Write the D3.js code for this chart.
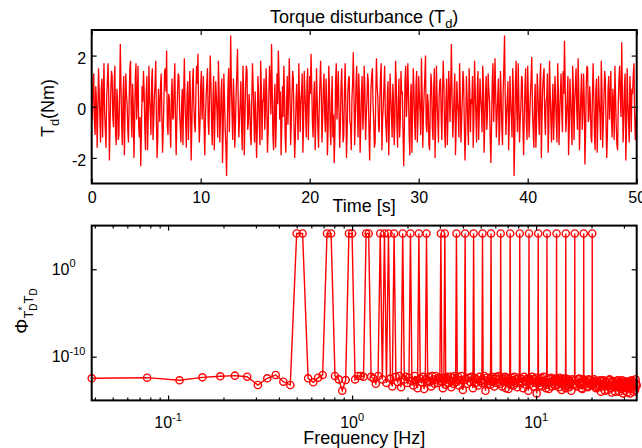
<!DOCTYPE html>
<html>
<head>
<meta charset="utf-8">
<script src="https://cdn.jsdelivr.net/npm/d3@7"></script>
<style>
body { margin: 0; background: #fff; }
text { font-family: "Liberation Sans", Arial, sans-serif; fill: #000; }
</style>
</head>
<body>
<div id="chart"></div>
<script>
// torque disturbance, one sample every sampleStep seconds
var sampleStep = 0.0625;
var torqueNm = [
 0.0, -0.5, 0.9, 1.3, -0.6, -1.1, 0.8, 0.2, -1.6, -0.3, 1.5, 0.6, -0.4, -1.4, 0.7, 1.1, -1.2, 0.4, 1.7, -0.2, -0.9, -1.6, 0.3, 1.0, 1.7, 0.5, -2.1, -0.7, 0.6, 1.4, 1.2, -0.4, -0.8, 0.9, 1.6, -1.0, -1.5, 0.7, 0.2, -1.3,
 -1.1, 0.6, 2.45, 0.8, -0.7, -1.5, 0.4, 1.2, -1.9, -0.2, 1.3, 0.5, 0.1, -0.9, -1.4, 0.3, 1.5, 1.8, -0.3, -1.2, 0.9, 0.1, -2.0, -0.6, 1.1, 1.7, -0.5, 0.4, 1.6, -0.8, -1.2, -0.4, -2.33, -1.0, 0.8, 0.2, 1.4, 0.6, -0.9, -1.7,
 0.5, 1.2, -1.7, -0.4, 1.6, 0.3, -0.2, -1.1, 1.0, 1.5, -1.3, -0.6, 0.4, 0.9, 1.8, -0.5, -2.0, -1.2, 0.7, 0.1, -0.6, 0.8, 1.3, -0.3, -1.8, -0.9, 0.2, 1.4, 1.5, 0.6, 2.2, -0.7, -1.1, 0.5, 0.3, -0.8, -1.6, 0.4, 1.1, -0.5,
 -0.4, 0.8, 1.7, -0.6, -1.9, -0.5, 0.6, 1.3, 1.2, -0.2, -0.8, -1.4, 0.1, 0.7, -1.5, 0.4, 1.9, 0.2, -0.7, -1.6, 0.5, 1.0, -1.3, -0.1, 1.4, 0.3, -2.1, -0.8, 0.9, 1.5, 0.0, -0.7, -1.0, 0.6, 1.6, 0.9, 2.07, -0.3, -1.4, -0.6,
 0.8, 1.4, -0.5, 0.3, 1.2, -0.8, -1.9, -0.4, 0.4, 1.0, 1.5, -0.6, -1.1, 0.5, 2.0, 0.9, -0.6, -1.5, 0.3, 1.2, -1.7, -0.3, 1.0, 0.4, -0.2, -1.2, 1.8, 0.7, -1.4, -0.5, 0.6, 1.1, -2.2, -0.9, 1.3, 0.2, -0.9, -1.6, -2.71, -0.8,
 0.7, 1.5, -1.0, 0.4, 2.78, 0.9, -0.3, -1.3, 1.1, 0.2, -1.6, -0.7, 0.5, 1.3, 2.26, 0.3, -1.2, -0.5, 0.2, 1.0, -0.8, -1.7, 1.6, 0.6, -1.9, -0.4, 0.9, 1.6, 1.4, -0.9, -0.6, 0.5, 0.1, -1.1, -1.5, 0.3, 1.7, 0.8, -0.4, -1.4,
 0.6, -0.5, -2.0, -0.9, 1.2, 0.5, -0.7, -1.5, 1.8, 0.8, -1.3, 0.2, 0.3, 1.1, -0.9, -0.2, 1.5, 0.4, -1.8, -1.0, 0.4, 1.6, 1.0, -0.3, 2.45, 0.7, -1.1, -1.7, 0.2, 0.9, -1.6, -0.6, 1.3, 0.1, 2.2, 1.1, -0.5, 0.6, -1.9, -0.8,
 0.8, -0.4, 1.6, 0.5, -1.2, -1.8, 0.1, 1.2, -0.7, 0.3, 1.9, 0.7, -1.5, -0.6, 0.5, 1.4, 1.1, -0.8, -2.0, -1.1, 0.3, 0.9, -0.4, -1.3, 1.7, 0.4, -1.0, 0.2, 0.6, 1.3, -1.8, -0.7, 1.4, 0.6, -0.2, -1.2, 0.9, 1.5, -1.3, -0.1,
 1.2, 0.5, 2.07, 0.8, -0.6, -1.2, 0.4, 1.0, -1.7, -0.5, 1.5, 0.3, -0.9, -1.6, 0.0, 0.9, 1.8, 0.6, -1.4, -0.4, 0.7, 1.3, -0.3, -1.0, 1.1, 0.2, -1.9, -0.9, 1.6, 0.7, -0.8, -1.5, 0.2, 1.2, -1.2, -0.3, -2.2, -1.1, 1.0, 1.7,
 -0.5, 0.4, 1.4, -0.2, -1.6, -0.8, 0.8, 1.5, 0.1, -1.4, -1.1, 0.6, 1.7, 0.2, -2.0, -0.9, 0.5, 1.1, 1.2, -0.6, -0.7, -1.7, 0.3, 0.9, 2.13, 0.5, -1.5, -0.4, 0.9, 1.6, -0.1, -1.2, 1.3, 0.4, -1.8, -0.7, 0.6, 1.2, -0.9, -0.2,
 1.6, 0.7, -1.3, -0.4, 0.2, 1.3, 1.0, -0.9, -2.1, -0.6, 0.7, 1.2, 1.5, 0.1, -0.6, -1.6, -1.4, 0.5, 1.9, 0.8, 0.4, -0.7, -1.0, 0.3, 1.2, 1.7, -1.7, -0.5, 0.0, 0.8, 1.6, -0.3, -0.8, -1.4, 0.5, 1.0, -1.9, -0.6, 1.3, 0.4,
 -0.3, -1.2, 0.9, 0.2, -1.5, -0.6, 1.8, 1.0, -0.7, -1.6, 0.2, 1.1, -1.2, -0.5, 1.4, 0.5, 0.6, -1.0, -2.33, -0.8, 1.1, 1.6, -0.4, 0.3, 1.7, 0.6, -1.1, -1.9, 0.3, 0.9, -1.8, -0.2, 1.5, 0.7, -0.6, -1.3, 0.8, 1.4, -1.4, -0.5,
 1.2, 0.4, -0.2, -1.1, 1.9, 0.6, -1.6, -0.3, 0.5, 1.2, 2.0, -0.7, -1.0, 0.5, 0.1, -1.5, -1.7, 0.2, 1.3, 0.8, -0.8, -1.3, 0.7, 1.5, -2.0, -0.6, 1.6, 0.3, -0.5, -1.4, 0.4, 1.0, 1.1, -0.4, -1.3, 0.6, 1.8, 0.9, -0.9, -1.6,
 0.2, 1.1, -1.5, -0.4, 1.4, 0.7, -0.6, 0.8, 2.45, 0.3, -1.2, -0.5, 0.6, 1.3, -1.9, -0.8, 1.0, 0.2, -0.3, -1.2, 1.7, 0.5, -1.4, -0.6, 0.3, 1.4, 0.9, -0.7, -2.1, -1.0, 1.2, 0.4, -0.7, -1.5, 1.5, 0.6, -1.0, 0.3, 0.1, 1.2,
 -1.6, -0.5, 1.8, 0.6, -0.4, -1.4, 0.7, 1.4, -1.3, -0.2, 1.1, 0.3, -0.1, -1.0, 1.6, 0.8, -1.8, -0.7, 0.5, 1.2, -0.9, -0.2, 1.3, 0.6, 0.2, -1.3, -2.2, -0.6, 1.0, 1.7, -0.6, 0.3, 1.9, 0.5, -1.2, -0.4, 0.4, 1.1, -1.5, -0.8,
 1.4, 0.5, -0.8, -1.5, 0.6, 1.6, 2.78, 0.4, -1.1, -0.3, 0.3, 1.0, -1.7, -0.6, 1.2, 0.2, -0.4, -1.2, 1.5, 0.7, -2.71, -1.3, 0.9, 1.8, -0.2, -1.0, 1.7, 0.4, -1.4, -0.5, 0.0, 1.2, 1.1, -0.8, -1.9, -0.4, 0.8, 1.5, -0.6, -1.3,
 1.6, 0.3, -1.2, -0.4, 0.5, 1.1, 1.94, -0.2, -0.9, -1.6, 0.2, 0.9, -1.6, -0.7, 1.3, 0.6, -0.3, -1.1, 1.0, 1.7, -2.0, -0.5, 0.7, 1.2, 1.5, -0.4, -1.1, 0.2, 0.4, 1.3, -1.8, -0.8, 1.8, 0.6, -0.5, -1.4, 0.1, 0.9, -1.3, -0.2,
 1.2, 0.4, -0.7, -1.4, 1.7, 0.6, -1.5, -0.3, 0.6, 1.3, -0.2, -1.0, 1.4, 0.5, 2.58, 0.9, -1.0, -0.4, 0.3, 1.2, -1.9, -0.8, 1.1, 0.3, -0.6, -1.5, 1.6, 0.7, -1.3, 0.2, 0.8, 1.5, -0.1, -0.9, 1.9, 0.6, -1.7, -0.6, 0.5, 1.3,
 -0.9, -0.2, 1.3, 0.3, -2.26, -1.0, 0.9, 1.6, 1.5, -0.6, -0.4, 0.8, 0.2, -1.2, -1.4, 0.4, 1.7, 0.5, -1.1, -1.7, 0.6, 1.1, -1.8, -0.5, 1.2, 0.2, -0.3, -1.3, 1.8, 0.7, -1.6, -0.6, 0.4, 1.4, 1.0, -0.7, -2.0, -1.1, 0.7, 1.2,
 -0.5, 0.3, 1.4, -0.6, -1.2, 0.7, 0.1, -1.3, 1.6, 0.4, -0.8, -1.5, -1.7, 0.2, 1.1, 1.6, 0.3, -0.4, 2.52, 0.6, -1.4, -0.5, 0.8, 1.3, -2.1, -0.9, 1.5, 0.2, -0.6, -1.4, 1.2, 0.5, -1.0, 0.7, 0.5, 1.3, 1.7, -0.3, -1.3, -0.6,
 0.0
];
var timeTicks = [0, 10, 20, 30, 40, 50];
var torqueTicks = [-2, 0, 2];

// spectrum: FFT bin index (bin width binHz) and log10 of the value
var binHz = 0.03844;
var spectrumBin = [
 1, 2, 3, 4, 5, 6, 7, 8, 9, 10, 11, 12, 13, 14, 15, 16, 17, 18, 19, 20,
 21, 22, 23, 24, 25, 26, 27, 28, 29, 30, 31, 32, 33, 34, 35, 36, 37, 38, 39, 40,
 41, 42, 43, 44, 45, 46, 47, 48, 49, 50, 51, 52, 53, 54, 55, 56, 57, 58, 59, 60,
 61, 62, 63, 64, 65, 66, 67, 68, 69, 70, 71, 72, 73, 74, 75, 76, 77, 78, 79, 80,
 81, 82, 83, 84, 85, 86, 87, 88, 89, 90, 91, 92, 93, 94, 95, 96, 97, 98, 99, 100,
 102, 104, 106, 107, 108, 110, 112, 114, 116, 118, 119, 120, 122, 124, 126, 128, 130, 132, 133, 134,
 136, 138, 140, 142, 144, 146, 147, 148, 149, 150, 152, 154, 156, 158, 160, 162, 164, 166, 167, 168,
 170, 172, 174, 176, 178, 180, 182, 184, 186, 187, 188, 189, 190, 192, 194, 196, 198, 200,
 203, 206, 209, 211, 212, 213, 215, 218, 221, 224, 227, 230, 233, 236, 237, 238, 239, 242, 245, 248,
 251, 254, 257, 260, 262, 264, 266, 267, 268, 271, 274, 277, 280, 283, 286, 289, 292, 295, 297, 298,
 299, 302, 305, 308, 311, 314, 317, 320, 323, 326, 329, 332, 335, 336, 337, 340, 343, 346, 349, 352,
 355, 358, 361, 364, 367, 370, 373, 376, 377, 378, 381, 384, 387, 390, 393, 396, 399,
 404, 410, 416, 421, 422, 423, 428, 434, 440, 446, 452, 458, 464, 470, 471, 472, 473, 479, 485, 491,
 497, 503, 509, 515, 521, 524, 525, 526, 532, 538, 544, 550, 556, 562, 568, 574, 580, 586, 592, 598,
 604, 610, 616, 622, 628, 634, 640, 646, 652, 658, 664, 670, 676, 682, 688, 694, 700, 706, 712, 718,
 724, 730, 736, 742, 748, 754, 760, 766, 772, 778, 784, 790, 796, 802, 808, 814, 820, 826, 832, 838,
 844, 850, 856, 862, 868, 874, 880, 886, 892, 898, 904, 910, 916
];
var psdLog10 = [
 -12.47, -12.40, -12.70, -12.36, -12.24, -12.17, -12.29, -13.24, -12.47, -12.09, -12.86, -13.24, 4.1, 4.1, -12.47, -12.93, -12.40, -12.09, 4.1, 4.1,
 -12.21, -12.59, -13.89, -12.67, 4.1, 4.1, -12.6, -12.2, -12.2, -12.3, 4.1, 4.1, -12.3, -12.5, -13.1, -12.2, 4.1, -12.6, 4.1, -13.0,
 4.1, -12.5, -13.4, 4.1, -12.3, -12.9, -12.2, -13.5, 4.1, -12.6, -12.3, -13.0, -12.4, 4.1, -12.8, -13.3, -12.2, -12.7, -13.6, 4.1,
 -12.5, -12.9, -12.3, -13.7, -12.6, 4.1, -12.8, -12.3, -12.9, -13.4, -12.2, -12.6, -13.1, -12.2, -12.7, -13.0, -12.4, -12.5, 4.1, -12.9,
 -13.6, -12.4, 4.1, -13.2, -12.5, -12.3, -13.0, -12.7, -12.3, -13.5, -12.8, -12.4, -13.1, -12.2, -12.9, 4.1, -12.6, -12.3, -13.3, -12.7,
 -12.2, -13.8, -12.7, 4.1, -12.5, -13.1, -12.4, -12.9, -12.3, -13.6, 4.1, -12.4, -13.0, -12.6, -13.3, -12.3, -12.8, -13.0, 4.1, -12.6,
 -12.2, -13.9, -12.4, -13.1, -12.8, -12.5, -13.2, 4.1, -12.3, -12.8, -12.9, -13.4, -12.5, -12.3, -13.0, -12.6, -12.2, -13.1, 4.1, -12.7,
 -13.4, -12.5, -12.9, -12.3, -13.6, -12.8, -12.4, -13.7, -12.5, -12.9, 4.1, -12.9, -13.2, -12.4, -12.7, -13.3, -12.3, -13.0,
 -12.6, -13.5, -12.4, -12.8, 4.1, -13.0, -12.5, -12.9, -13.6, -12.3, -12.8, -13.2, -12.5, -13.9, -12.6, 4.1, -12.5, -13.1, -12.7, -12.3,
 -13.4, -12.6, -13.0, -12.4, -14.2, -12.9, -12.7, 4.1, -13.0, -12.5, -13.3, -12.4, -13.4, -12.8, -12.3, -13.1, -12.9, -13.6, -13.2, 4.1,
 -12.6, -13.0, -13.7, -12.5, -12.9, -12.4, -13.4, -12.8, -13.1, -12.6, -13.3, -12.5, -12.6, 4.1, -12.9, -13.2, -12.6, -13.5, -12.4, -13.0,
 -12.7, -13.8, -13.0, -12.5, -13.2, -12.7, -13.4, -13.6, 4.1, -12.5, -13.1, -12.8, -13.2, -12.6, -13.5, -12.8, -13.0,
 -13.9, -12.6, -13.2, -13.1, 4.1, -12.7, -13.3, -13.4, -12.6, -12.5, -13.0, -13.6, -13.7, -12.9, -12.6, 4.1, -13.2, -12.7, -12.8, -13.4,
 -13.5, -12.6, -12.7, -13.1, -13.3, -12.9, 4.1, -13.1, -12.8, -12.6, -13.4, -13.6, -12.9, -12.8, -13.5, -13.2, -12.7, -14.0, -13.1, -12.8,
 -12.7, -13.4, -13.9, -12.9, -12.9, -13.3, -13.8, -12.7, -12.6, -13.6, -13.3, -14.1, -12.9, -12.8, -13.5, -13.1, -14.0, -12.8, -13.2, -13.5,
 -12.7, -13.0, -14.0, -13.3, -12.9, -13.7, -12.7, -13.4, -14.2, -13.0, -12.8, -13.9, -13.4, -12.9, -13.6, -14.1, -12.9, -13.3, -13.6, -12.8,
 -14.2, -13.5, -13.0, -12.7, -13.7, -13.2, -14.0, -12.9, -13.4, -13.8, -12.6, -13.1, -13.3
];
var freqTicks = [0.1, 1, 10];
var freqTickExp = ['-1', '0', '1'];
var freqMinorTicks = [0.04, 0.05, 0.06, 0.07, 0.08, 0.09, 0.2, 0.3, 0.4, 0.5, 0.6, 0.7, 0.8, 0.9,
                      2, 3, 4, 5, 6, 7, 8, 9, 20, 30];
var psdTicks = [1e-10, 1];
var psdTickExp = ['-10', '0'];

var width = 642;
var height = 448;
var left = 91.7;
var right = 636.7;
var red = '#ff0000';

var svg = d3.select('#chart')
    .append('svg')
    .attr('width', width)
    .attr('height', height)
    .style('background', '#fff');

function styleAxis(g) {
    g.select('.domain').remove();
    g.selectAll('line').attr('stroke', '#000').attr('stroke-width', 1.2);
    g.selectAll('text').attr('font-size', 16).attr('font-family', '"Liberation Sans", Arial, sans-serif');
}

// ---------- top panel: time signal ----------
var top1 = 30, bottom1 = 183.5;
var xTime = d3.scaleLinear().domain([0, 50]).range([left, right]);
var yTorque = d3.scaleLinear().domain([-3, 3]).range([bottom1, top1]);

var torqueLine = d3.line()
    .x((d, i) => xTime(i * sampleStep))
    .y((d) => yTorque(d));

svg.append('path')
    .datum(torqueNm)
    .attr('d', torqueLine)
    .attr('fill', 'none')
    .attr('stroke', red)
    .attr('stroke-width', 1.3);

svg.append('g')
    .attr('transform', 'translate(0,' + bottom1 + ')')
    .call(d3.axisBottom(xTime).tickValues(timeTicks).tickSize(-5).tickPadding(8).tickFormat((d) => String(d)))
    .call(styleAxis);
svg.append('g')
    .attr('transform', 'translate(0,' + top1 + ')')
    .call(d3.axisTop(xTime).tickValues(timeTicks).tickSize(-5).tickFormat(''))
    .call(styleAxis);
svg.append('g')
    .attr('transform', 'translate(' + left + ',0)')
    .call(d3.axisLeft(yTorque).tickValues(torqueTicks).tickSize(-5).tickPadding(5.5).tickFormat((d) => String(d)))
    .call(styleAxis)
    .selectAll('text').attr('dy', '0.5em');
svg.append('g')
    .attr('transform', 'translate(' + right + ',0)')
    .call(d3.axisRight(yTorque).tickValues(torqueTicks).tickSize(-5).tickFormat(''))
    .call(styleAxis);

svg.append('rect')
    .attr('x', left).attr('y', top1)
    .attr('width', right - left).attr('height', bottom1 - top1)
    .attr('fill', 'none').attr('stroke', '#000').attr('stroke-width', 2);

// title
var title = svg.append('text')
    .attr('x', (left + right) / 2).attr('y', 23)
    .attr('text-anchor', 'middle').style('font-size', '18px')
    .text('Torque disturbance (T');
title.append('tspan').attr('dy', 5).style('font-size', '13px').text('d');
title.append('tspan').attr('dy', -5).style('font-size', '18px').text(')');

// x label
svg.append('text')
    .attr('x', (left + right) / 2).attr('y', 212)
    .attr('text-anchor', 'middle').style('font-size', '18px')
    .text('Time [s]');

// y label
var yLab1 = svg.append('text')
    .attr('transform', 'translate(54,108) rotate(-90)')
    .attr('text-anchor', 'middle').style('font-size', '18px')
    .text('T');
yLab1.append('tspan').attr('dy', 5).style('font-size', '13px').text('d');
yLab1.append('tspan').attr('dy', -5).style('font-size', '18px').text('(Nm)');

// ---------- bottom panel: spectrum ----------
var top2 = 225.6, bottom2 = 400.4;
var xFreq = d3.scaleLog().domain([binHz, 916 * binHz]).range([left, right]);
var yPsd = d3.scaleLog().domain([1e-15, 1e5]).range([bottom2, top2]);

var spectrum = spectrumBin.map((k, i) => ({ f: k * binHz, v: Math.pow(10, psdLog10[i]) }));

var psdLine = d3.line()
    .x((d) => xFreq(d.f))
    .y((d) => yPsd(d.v));

svg.append('path')
    .datum(spectrum)
    .attr('d', psdLine)
    .attr('fill', 'none')
    .attr('stroke', red)
    .attr('stroke-width', 1.4);

svg.append('g')
    .selectAll('circle')
    .data(spectrum)
    .enter()
    .append('circle')
    .attr('cx', (d) => xFreq(d.f))
    .attr('cy', (d) => yPsd(d.v))
    .attr('r', 3.6)
    .attr('fill', 'none')
    .attr('stroke', red)
    .attr('stroke-width', 1.4);

// ticks (major and minor), mirrored on all sides
[[d3.axisBottom, bottom2, freqTicks, -5], [d3.axisBottom, bottom2, freqMinorTicks, -3],
 [d3.axisTop, top2, freqTicks, -5], [d3.axisTop, top2, freqMinorTicks, -3]].forEach(function (a) {
    svg.append('g')
        .attr('transform', 'translate(0,' + a[1] + ')')
        .call(a[0](xFreq).tickValues(a[2]).tickSize(a[3]).tickFormat(''))
        .call(styleAxis);
});
svg.append('g')
    .attr('transform', 'translate(' + left + ',0)')
    .call(d3.axisLeft(yPsd).tickValues(psdTicks).tickSize(-5).tickFormat(''))
    .call(styleAxis);
svg.append('g')
    .attr('transform', 'translate(' + right + ',0)')
    .call(d3.axisRight(yPsd).tickValues(psdTicks).tickSize(-5).tickFormat(''))
    .call(styleAxis);

svg.append('rect')
    .attr('x', left).attr('y', top2)
    .attr('width', right - left).attr('height', bottom2 - top2)
    .attr('fill', 'none').attr('stroke', '#000').attr('stroke-width', 2);

// x tick labels 10^n
var xLabs = svg.append('g')
    .selectAll('text')
    .data(freqTicks)
    .enter()
    .append('text')
    .attr('x', (d) => xFreq(d))
    .attr('y', 428)
    .attr('text-anchor', 'middle')
    .style('font-size', '16px');
xLabs.append('tspan').text('10');
xLabs.append('tspan').attr('dy', -7).style('font-size', '11px').text((d, i) => freqTickExp[i]);

// y tick labels 10^n
svg.append('g')
    .selectAll('text')
    .data(psdTicks)
    .enter()
    .append('text')
    .attr('x', 69.5)
    .attr('y', (d) => yPsd(d) + 5.5)
    .attr('text-anchor', 'end')
    .style('font-size', '16px')
    .text('10');
svg.append('g')
    .selectAll('text')
    .data(psdTicks)
    .enter()
    .append('text')
    .attr('x', 69.5)
    .attr('y', (d) => yPsd(d) - 2)
    .style('font-size', '11px')
    .text((d, i) => psdTickExp[i]);

svg.append('text')
    .attr('x', (left + right) / 2).attr('y', 444)
    .attr('text-anchor', 'middle').style('font-size', '18px')
    .text('Frequency [Hz]');

// y label: Phi_{T_D^* T_D}
var yLab2 = svg.append('text')
    .attr('transform', 'translate(28,311) rotate(-90)')
    .attr('text-anchor', 'middle').style('font-size', '19px')
    .text('\u03A6');
yLab2.append('tspan').attr('dy', 5).style('font-size', '13px').text('T');
yLab2.append('tspan').attr('dy', -7).style('font-size', '10px').text('*');
yLab2.append('tspan').attr('dx', -4).attr('dy', 11).style('font-size', '10px').text('D');
yLab2.append('tspan').attr('dy', -4).style('font-size', '13px').text('T');
yLab2.append('tspan').attr('dy', 4).style('font-size', '10px').text('D');
</script>
</body>
</html>
